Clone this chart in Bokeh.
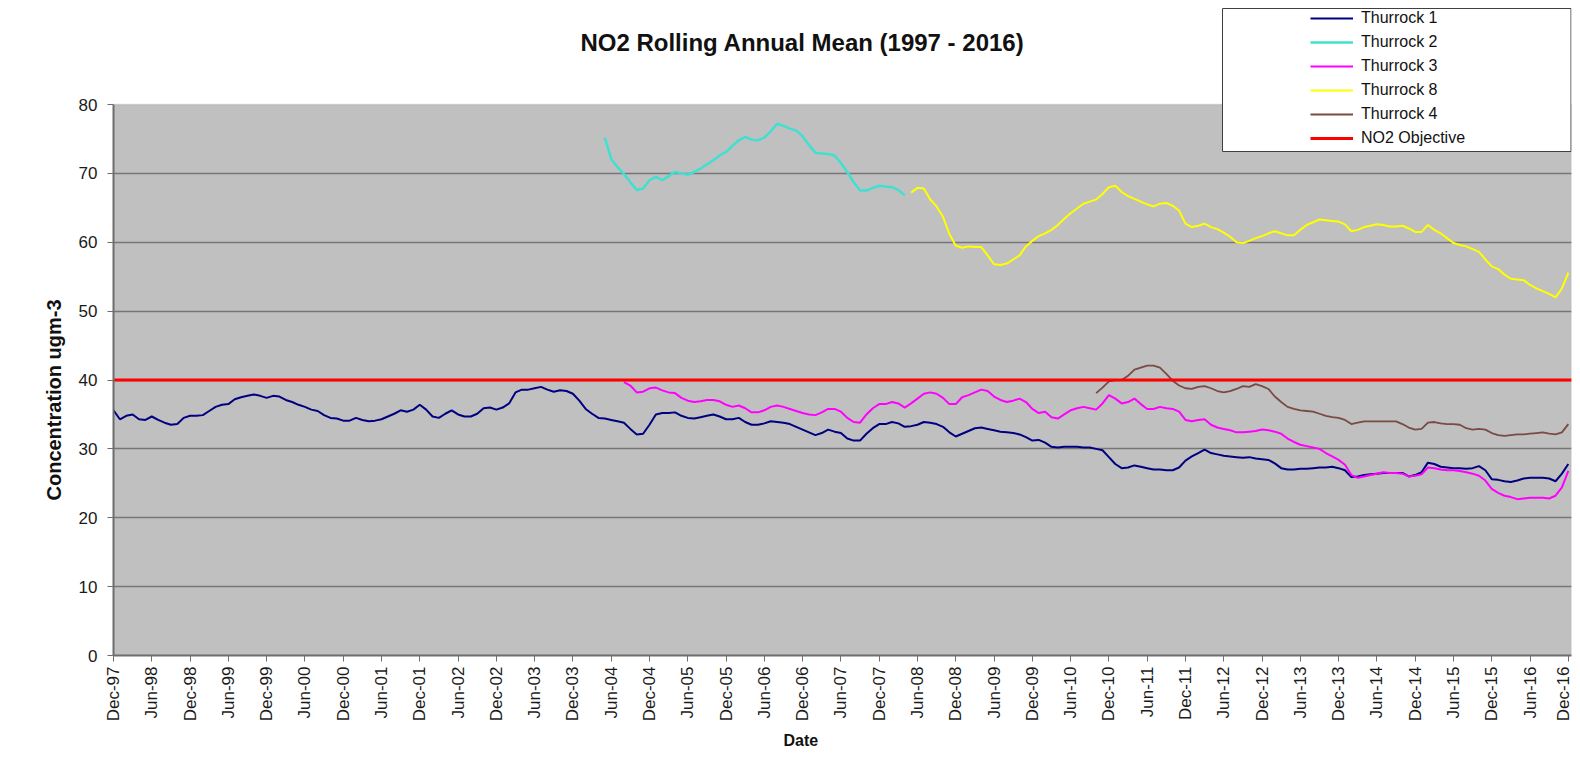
from math import pi
from bokeh.plotting import figure
from bokeh.models import (Range1d, FixedTicker, Legend, LegendItem, BoxAnnotation,
                          Title, Label)
from bokeh.embed import file_html
from bokeh.resources import INLINE

# ---------------- data (monthly rolling annual means, ugm-3) ----------------
# month index 0 = Dec-97, 228 = Dec-16
tick_months = list(range(0, 229, 6))
tick_labels = ["Dec-97", "Jun-98", "Dec-98", "Jun-99", "Dec-99", "Jun-00", "Dec-00",
               "Jun-01", "Dec-01", "Jun-02", "Dec-02", "Jun-03", "Dec-03", "Jun-04",
               "Dec-04", "Jun-05", "Dec-05", "Jun-06", "Dec-06", "Jun-07", "Dec-07",
               "Jun-08", "Dec-08", "Jun-09", "Dec-09", "Jun-10", "Dec-10", "Jun-11",
               "Dec-11", "Jun-12", "Dec-12", "Jun-13", "Dec-13", "Jun-14", "Dec-14",
               "Jun-15", "Dec-15", "Jun-16", "Dec-16"]
y_ticks = [0, 10, 20, 30, 40, 50, 60, 70, 80]

objective = 40

thurrock1_start = 0
thurrock1 = [
    35.6, 34.3, 34.8, 35.0, 34.3, 34.2, 34.7, 34.2, 33.8, 33.5, 33.6, 34.5,
    34.8, 34.8, 34.9, 35.5, 36.1, 36.4, 36.5, 37.2, 37.5, 37.7, 37.9, 37.7,
    37.4, 37.7, 37.6, 37.1, 36.8, 36.4, 36.1, 35.7, 35.5, 34.9, 34.5, 34.4,
    34.1, 34.1, 34.5, 34.2, 34.0, 34.1, 34.3, 34.7, 35.1, 35.6, 35.4, 35.7,
    36.4, 35.7, 34.7, 34.5, 35.1, 35.6, 35.0, 34.7, 34.7, 35.1, 35.9, 36.0,
    35.7, 36.0, 36.6, 38.2, 38.6, 38.6, 38.8, 39.0, 38.6, 38.3, 38.5, 38.4,
    38.0, 37.0, 35.8, 35.1, 34.5, 34.4, 34.2, 34.0, 33.8, 32.9, 32.1, 32.2,
    33.5, 35.0, 35.2, 35.2, 35.3, 34.8, 34.5, 34.4, 34.6, 34.8, 35.0, 34.7,
    34.3, 34.3, 34.5, 33.9, 33.5, 33.5, 33.7, 34.0, 33.9, 33.8, 33.6, 33.2,
    32.8, 32.4, 32.0, 32.3, 32.8, 32.5, 32.3, 31.5, 31.2, 31.2, 32.2, 33.0,
    33.6, 33.6, 33.9, 33.7, 33.2, 33.3, 33.5, 33.9, 33.8, 33.6, 33.2, 32.4,
    31.8, 32.2, 32.6, 33.0, 33.1, 32.9, 32.7, 32.5, 32.4, 32.3, 32.1, 31.7,
    31.2, 31.3, 30.9, 30.3, 30.2, 30.3, 30.3, 30.3, 30.2, 30.2, 30.0, 29.8,
    28.8, 27.8, 27.2, 27.3, 27.6, 27.4, 27.2, 27.0, 27.0, 26.9, 26.9, 27.3,
    28.3, 28.9, 29.4, 29.9, 29.4, 29.2, 29.0, 28.9, 28.8, 28.7, 28.8, 28.6,
    28.5, 28.4, 27.9, 27.2, 27.0, 27.0, 27.1, 27.1, 27.2, 27.3, 27.3, 27.4,
    27.2, 26.9, 25.9, 26.0, 26.2, 26.3, 26.4, 26.5, 26.5, 26.5, 26.5, 26.0,
    26.2, 26.6, 28.0, 27.8, 27.4, 27.3, 27.2, 27.2, 27.1, 27.2, 27.5, 26.9,
    25.6, 25.5, 25.3, 25.2, 25.4, 25.7, 25.8, 25.8, 25.8, 25.7, 25.3, 26.4,
    27.8]

thurrock2_start = 77
thurrock2 = [
    75.2, 72.1, 70.9, 69.9, 68.7, 67.6, 67.8, 69.0, 69.5, 69.0, 69.6, 70.2,
    70.0, 69.8, 70.2, 70.7, 71.3, 71.9, 72.6, 73.1, 74.0, 74.8, 75.3, 74.9,
    74.8, 75.2, 76.1, 77.2, 76.9, 76.5, 76.2, 75.4, 74.1, 73.0, 72.9, 72.8,
    72.6, 71.5, 70.2, 68.7, 67.5, 67.5, 67.9, 68.2, 68.1, 68.0, 67.6, 66.8]

thurrock3_start = 80
thurrock3 = [
    39.7, 39.2, 38.2, 38.3, 38.8, 38.9, 38.5, 38.2, 38.1, 37.4, 37.0, 36.8,
    36.9, 37.1, 37.1, 36.9, 36.4, 36.1, 36.3, 35.9, 35.3, 35.3, 35.6, 36.1,
    36.3, 36.1, 35.8, 35.5, 35.2, 35.0, 34.9, 35.3, 35.8, 35.8, 35.4, 34.5,
    33.9, 33.8, 35.0, 35.9, 36.5, 36.5, 36.8, 36.6, 36.0, 36.6, 37.3, 38.0,
    38.2, 38.0, 37.4, 36.5, 36.5, 37.5, 37.8, 38.2, 38.6, 38.4, 37.6, 37.1,
    36.8, 37.0, 37.3, 36.8, 35.8, 35.2, 35.4, 34.6, 34.4, 35.0, 35.6, 35.9,
    36.1, 35.9, 35.7, 36.6, 37.8, 37.3, 36.6, 36.8, 37.3, 36.5, 35.8, 35.8,
    36.1, 35.9, 35.8, 35.4, 34.2, 34.0, 34.2, 34.3, 33.5, 33.1, 32.9, 32.7,
    32.4, 32.4, 32.5, 32.6, 32.8, 32.7, 32.5, 32.2, 31.5, 31.0, 30.6, 30.4,
    30.2, 30.0, 29.4, 28.9, 28.4, 27.7, 26.2, 25.8, 26.0, 26.2, 26.4, 26.6,
    26.5, 26.5, 26.4, 26.0, 26.1, 26.3, 27.3, 27.2, 27.0, 26.9, 26.9, 26.8,
    26.6, 26.4, 26.1, 25.4, 24.2, 23.6, 23.2, 23.0, 22.7, 22.8, 22.9, 22.9,
    22.9, 22.8, 23.2, 24.4, 26.8]

thurrock8_start = 125
thurrock8 = [
    67.2, 67.9, 67.8, 66.2, 65.2, 63.7, 61.2, 59.5, 59.2, 59.4, 59.3, 59.3,
    58.1, 56.8, 56.7, 56.9, 57.5, 58.1, 59.4, 60.2, 60.9, 61.3, 61.8, 62.5,
    63.4, 64.2, 64.9, 65.6, 65.9, 66.2, 67.0, 68.0, 68.2, 67.3, 66.7, 66.3,
    65.9, 65.5, 65.2, 65.6, 65.7, 65.3, 64.6, 62.7, 62.2, 62.4, 62.7, 62.2,
    61.9, 61.4, 60.8, 60.0, 59.9, 60.2, 60.6, 60.9, 61.3, 61.6, 61.3, 61.0,
    61.0, 61.8, 62.5, 62.9, 63.3, 63.2, 63.1, 63.0, 62.6, 61.6, 61.8, 62.2,
    62.4, 62.6, 62.5, 62.3, 62.3, 62.4, 62.0, 61.5, 61.5, 62.5, 61.8, 61.3,
    60.6, 59.9, 59.6, 59.4, 59.0, 58.6, 57.5, 56.5, 56.1, 55.3, 54.7, 54.6,
    54.5, 53.8, 53.3, 52.9, 52.5, 52.0, 53.3, 55.6]

thurrock4_start = 154
thurrock4 = [
    38.1, 38.9, 39.8, 40.0, 40.0, 40.6, 41.5, 41.8, 42.1, 42.1, 41.8, 40.9,
    39.9, 39.2, 38.8, 38.7, 39.0, 39.1, 38.8, 38.4, 38.2, 38.4, 38.7, 39.1,
    39.0, 39.4, 39.1, 38.7, 37.6, 36.8, 36.1, 35.8, 35.6, 35.5, 35.4, 35.1,
    34.8, 34.6, 34.5, 34.2, 33.6, 33.8, 34.0, 34.0, 34.0, 34.0, 34.0, 34.0,
    33.6, 33.1, 32.8, 32.9, 33.8, 33.9, 33.7, 33.6, 33.6, 33.5, 33.0, 32.8,
    32.9, 32.8, 32.3, 32.0, 31.9, 32.0, 32.1, 32.1, 32.2, 32.3, 32.4, 32.2,
    32.1, 32.4, 33.6]

# ---------------- layout constants (pixels) ----------------
FRAME_LEFT, FRAME_RIGHT = 113, 1571
FRAME_TOP, FRAME_BOTTOM = 6, 655
PLOT_TOP = 104          # pixel row of the value 80
FIG_W, FIG_H = 1572, 768
y_min, y_max = 0, 80
y_frame_top = y_max * (FRAME_BOTTOM - FRAME_TOP) / (FRAME_BOTTOM - PLOT_TOP)
x_start, x_end = 0, 228.5


def months(start, values):
    return list(range(start, start + len(values)))


FONT = "Liberation Sans"

p = figure(width=FIG_W, height=FIG_H, title=None,
           x_range=Range1d(x_start, x_end), y_range=Range1d(y_min, y_frame_top),
           output_backend="svg", toolbar_location=None,
           min_border_left=FRAME_LEFT, min_border_right=FIG_W - FRAME_RIGHT,
           min_border_top=FRAME_TOP, min_border_bottom=FIG_H - FRAME_BOTTOM,
           background_fill_color="white", border_fill_color="white")
p.outline_line_color = None

# grey plot area (0..80)
area = BoxAnnotation(left=x_start, right=x_end, bottom=y_min, top=y_max,
                     fill_color="#C0C0C0", fill_alpha=1.0,
                     line_color="#9a9a9a", line_width=1.5, level="image")
p.add_layout(area)

# axes
p.xaxis.ticker = FixedTicker(ticks=tick_months)
p.xaxis.major_label_overrides = dict(zip(tick_months, tick_labels))
p.xaxis.major_label_orientation = pi / 2
p.yaxis.ticker = FixedTicker(ticks=y_ticks)
p.yaxis.bounds = (y_min, y_max)
for ax in (p.xaxis[0], p.yaxis[0]):
    ax.axis_line_color = "#6e6e6e"
    ax.axis_line_width = 2
    ax.major_tick_line_color = "#6e6e6e"
    ax.major_tick_line_width = 1
    ax.major_tick_out = 6
    ax.major_tick_in = 0
    ax.minor_tick_line_color = None
    ax.major_label_text_font = FONT
    ax.major_label_text_font_size = "17px"
    ax.major_label_text_color = "#1a1a1a"
p.xaxis.major_label_standoff = 5
p.yaxis.major_label_standoff = 10

p.xgrid.visible = False
p.ygrid.ticker = FixedTicker(ticks=y_ticks[1:-1])
p.ygrid.grid_line_color = "#767676"
p.ygrid.grid_line_width = 1.6

# titles
title = Label(x=802 - FRAME_LEFT, y=FRAME_BOTTOM - 42, x_units="screen", y_units="screen",
              text="NO2 Rolling Annual Mean (1997 - 2016)", text_align="center",
              text_baseline="middle", text_font=FONT, text_font_size="24px",
              text_font_style="bold", text_color="#111111")
p.add_layout(title)
p.add_layout(Title(text="Date", align="left", offset=670, standoff=10,
                   text_font=FONT, text_font_size="16px", text_font_style="bold",
                   text_color="#111111"), "below")
p.add_layout(Title(text="Concentration ugm-3", align="left", offset=155, standoff=22,
                   text_font=FONT, text_font_size="20px", text_font_style="bold",
                   text_color="#111111"), "left")

# series
r1 = p.line(months(thurrock1_start, thurrock1), thurrock1, line_color="#000080", line_width=2)
r2 = p.line(months(thurrock2_start, thurrock2), thurrock2, line_color="#40E0D0", line_width=2.5)
r3 = p.line(months(thurrock3_start, thurrock3), thurrock3, line_color="#FF00FF", line_width=2)
r8 = p.line(months(thurrock8_start, thurrock8), thurrock8, line_color="#FFFF00", line_width=2)
r4 = p.line(months(thurrock4_start, thurrock4), thurrock4, line_color="#7A4A45", line_width=1.8)
r_obj = p.line([x_start, x_end], [objective, objective], line_color="#FF0000", line_width=3)

# legend box (white, outlined) and legend
box = BoxAnnotation(left=1222 - FRAME_LEFT, right=FRAME_RIGHT - FRAME_LEFT - 0.5,
                    top=FRAME_BOTTOM - 8, bottom=FRAME_BOTTOM - 151,
                    left_units="screen", right_units="screen",
                    top_units="screen", bottom_units="screen",
                    fill_color="white", fill_alpha=1.0,
                    line_color="#404040", line_width=1, line_alpha=1.0)
p.add_layout(box)

legend = Legend(items=[
    LegendItem(label="Thurrock 1", renderers=[r1]),
    LegendItem(label="Thurrock 2", renderers=[r2]),
    LegendItem(label="Thurrock 3", renderers=[r3]),
    LegendItem(label="Thurrock 8", renderers=[r8]),
    LegendItem(label="Thurrock 4", renderers=[r4]),
    LegendItem(label="NO2 Objective", renderers=[r_obj]),
], location=(1310 - FRAME_LEFT, FRAME_BOTTOM - 150), padding=0, spacing=0, margin=0,
    label_height=24, glyph_height=24, glyph_width=43, label_standoff=8,
    border_line_alpha=0, background_fill_alpha=0,
    label_text_font=FONT, label_text_font_size="16px", label_text_color="#111111")
p.add_layout(legend)

open("out.html", "w").write(file_html(p, INLINE))
